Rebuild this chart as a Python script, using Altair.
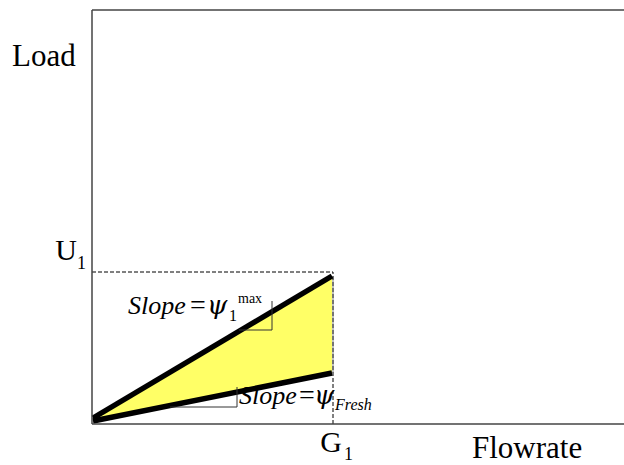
import altair as alt
import pandas as pd

# Data (plot units: x 0..532, y 0..414)
G1 = 241
U1 = 152
line_x = [1, 240]
upper_y = [6, 148]
lower_y = [3, 51]

# slope marker segments (x, y, x2, y2)
markers = [
    (147, 94, 180, 94),
    (180, 94, 180, 123),
    (78, 17, 145, 17),
    (145, 17, 145, 37),
]

XMAX, YMAX = 532, 414
xs = alt.Scale(domain=[0, XMAX], nice=False, zero=False)
ys = alt.Scale(domain=[0, YMAX], nice=False, zero=False)

lines_df = pd.DataFrame({
    "x": line_x * 2,
    "y": upper_y + lower_y,
    "s": ["upper", "upper", "lower", "lower"],
})
area_df = pd.DataFrame({"x": line_x, "lo": lower_y, "hi": upper_y})
seg_df = pd.DataFrame(markers, columns=["x", "y", "x2", "y2"])
dash_df = pd.DataFrame({"x": [0, G1], "y": [U1, 0], "x2": [G1, G1], "y2": [U1, U1]})
frame_df = pd.DataFrame({
    "x": [0, 0, 0], "y": [0, 0, YMAX], "x2": [0, XMAX, XMAX], "y2": [YMAX, 0, YMAX]
})

FONT = "Liberation Serif"
GREEK = "DejaVu Serif"

area = alt.Chart(area_df).mark_area(color="#FFFF66", opacity=1).encode(
    x=alt.X("x:Q", scale=xs, axis=None),
    y=alt.Y("lo:Q", scale=ys, axis=None),
    y2="hi:Q",
)

dashes = alt.Chart(dash_df).mark_rule(color="black", strokeWidth=1, strokeDash=[4, 2]).encode(
    x=alt.X("x:Q", scale=xs, axis=None), y=alt.Y("y:Q", scale=ys, axis=None), x2="x2:Q", y2="y2:Q"
)

edge = alt.Chart(pd.DataFrame({"x": [G1], "y": [lower_y[1]], "y2": [upper_y[1]]})).mark_rule(
    color="#666666", strokeWidth=0.8
).encode(x=alt.X("x:Q", scale=xs, axis=None), y=alt.Y("y:Q", scale=ys, axis=None), y2="y2:Q")

lines = alt.Chart(lines_df).mark_line(color="black", strokeWidth=5.5, strokeCap="butt").encode(
    x=alt.X("x:Q", scale=xs, axis=None),
    y=alt.Y("y:Q", scale=ys, axis=None),
    detail="s:N",
)

segs = alt.Chart(seg_df).mark_rule(color="#333333", strokeWidth=1).encode(
    x=alt.X("x:Q", scale=xs, axis=None), y=alt.Y("y:Q", scale=ys, axis=None), x2="x2:Q", y2="y2:Q"
)

frame = alt.Chart(frame_df).mark_rule(color="#444444", strokeWidth=1.5).encode(
    x=alt.X("x:Q", scale=xs, axis=None), y=alt.Y("y:Q", scale=ys, axis=None), x2="x2:Q", y2="y2:Q"
)


def label(text, x, y, size, italic=False, align="left", font=FONT):
    return alt.Chart(pd.DataFrame({"t": [text]})).mark_text(
        align=align, baseline="alphabetic", font=font, fontSize=size,
        fontStyle="italic" if italic else "normal", color="black",
    ).encode(text="t:N", x=alt.value(x), y=alt.value(y))


texts = [
    label("Load", -80, 56, 31),
    label("Flowrate", 380, 448, 31),
    label("U", -15, 250, 30, align="right"),
    label("1", -15, 259, 18),
    label("G", 239, 442, 30, align="center"),
    label("1", 252, 450, 18),
    # upper slope annotation
    label("Slope", 36, 304, 26, italic=True),
    label("=", 98, 304, 28),
    label("ψ", 115, 304, 26, italic=True, font=GREEK),
    label("1", 137, 311, 16),
    label("max", 146, 293, 14),
    # lower slope annotation
    label("Slope", 147, 394, 26, italic=True),
    label("=", 207, 394, 28),
    label("ψ", 222, 394, 26, italic=True, font=GREEK),
    label("Fresh", 243, 400, 16, italic=True),
]

chart = alt.layer(area, dashes, edge, lines, segs, frame, *texts).properties(
    width=XMAX, height=YMAX,
    autosize=alt.AutoSizeParams(type="none"),
    padding={"left": 92, "top": 10, "right": 0, "bottom": 41},
    background="white",
).configure_view(stroke=None)

chart.save("out.html", embed_options={"renderer": "svg", "actions": False})
